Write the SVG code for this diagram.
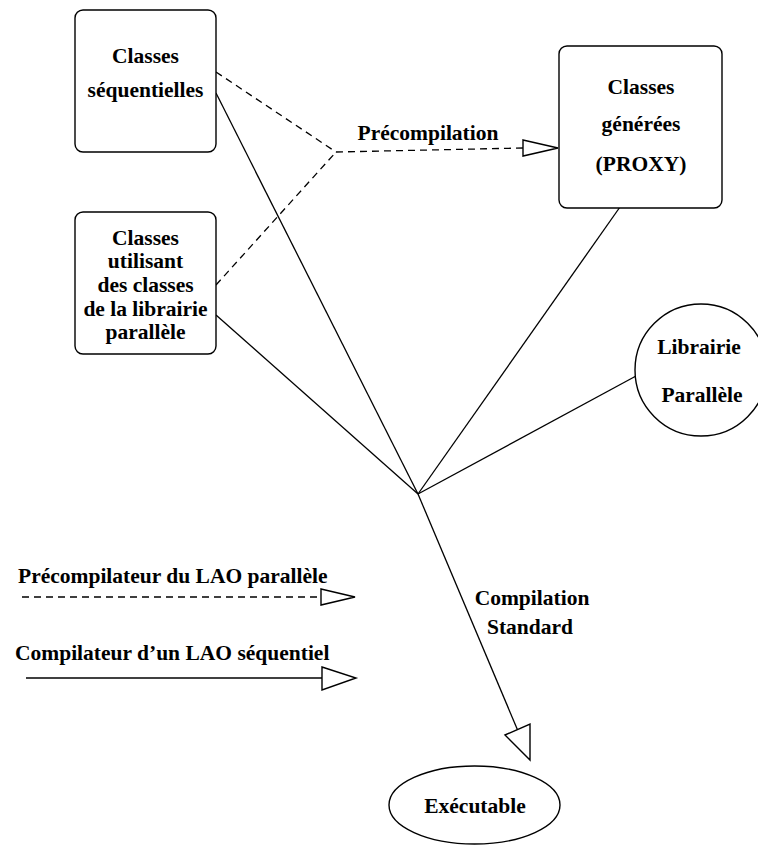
<svg xmlns="http://www.w3.org/2000/svg" width="758" height="845" viewBox="0 0 758 845">
  <style>
    .node { fill: #ffffff; stroke: #000000; stroke-width: 1.4; }
    .label { font-family: "Liberation Serif", "Times New Roman", serif; font-weight: bold; font-size: 21.5px; fill: #000000; text-anchor: middle; }
    .label-start { font-family: "Liberation Serif", "Times New Roman", serif; font-weight: bold; font-size: 21.5px; fill: #000000; }
    .solid { fill: none; stroke: #000000; stroke-width: 1.3; }
    .dashed { fill: none; stroke: #000000; stroke-width: 1.3; stroke-dasharray: 7 5; }
    .head { fill: #ffffff; stroke: #000000; stroke-width: 1.4; stroke-linejoin: miter; }
  </style>
  <rect width="758" height="845" fill="#ffffff"/>

  <!-- connectors -->
  <g id="connectors">
    <!-- precompilation: both source classes meet, then go to the generated classes -->
    <polyline class="dashed" points="216,72 336,152"/>
    <polyline class="dashed" points="216,285 336,152"/>
    <polyline class="dashed" points="336,152 523,148"/>
    <polygon class="head" points="523,140 558,148 523,156"/>

    <!-- standard compilation: everything meets at one point -->
    <line class="solid" x1="216" y1="93" x2="418" y2="494"/>
    <line class="solid" x1="216" y1="315" x2="418" y2="494"/>
    <line class="solid" x1="620" y1="207" x2="418" y2="494"/>
    <line class="solid" x1="636" y1="376" x2="418" y2="494"/>
    <line class="solid" x1="418" y1="494" x2="518" y2="731"/>
    <polygon class="head" points="505,735 530,724 530,760"/>

    <text class="label" x="428" y="140">Précompilation</text>
    <text class="label" x="532" y="605">Compilation</text>
    <text class="label" x="530" y="634">Standard</text>
  </g>

  <!-- nodes -->
  <g id="classes-sequentielles">
    <rect class="node" x="75" y="10" width="141" height="142" rx="8" ry="8"/>
    <text class="label" x="145.5" y="63">Classes</text>
    <text class="label" x="145.5" y="97">séquentielles</text>
  </g>

  <g id="classes-utilisant">
    <rect class="node" x="75" y="212" width="141" height="142" rx="8" ry="8"/>
    <text class="label" x="145.5" y="245">Classes</text>
    <text class="label" x="145.5" y="268">utilisant</text>
    <text class="label" x="145.5" y="292">des classes</text>
    <text class="label" x="145.5" y="316">de la librairie</text>
    <text class="label" x="145.5" y="339">parallèle</text>
  </g>

  <g id="classes-generees">
    <rect class="node" x="559" y="46" width="163" height="162" rx="8" ry="8"/>
    <text class="label" x="641" y="94">Classes</text>
    <text class="label" x="641" y="131">générées</text>
    <text class="label" x="641" y="171">(PROXY)</text>
  </g>

  <g id="librairie-parallele">
    <circle class="node" cx="701" cy="370" r="66"/>
    <text class="label" x="699" y="354">Librairie</text>
    <text class="label" x="702" y="402">Parallèle</text>
  </g>

  <g id="executable">
    <ellipse class="node" cx="474.5" cy="805" rx="85.5" ry="39"/>
    <text class="label" x="475" y="813">Exécutable</text>
  </g>

  <!-- legend -->
  <g id="legend-precompilateur">
    <text class="label-start" x="18" y="583">Précompilateur du LAO parallèle</text>
    <line class="dashed" x1="22" y1="597" x2="321" y2="597"/>
    <polygon class="head" points="321,589 355,597 321,605"/>
  </g>

  <g id="legend-compilateur">
    <line class="solid" x1="26" y1="678" x2="322" y2="678"/>
    <polygon class="head" points="322,667 356,678 322,690"/>
    <text class="label-start" x="15" y="660">Compilateur d’un LAO séquentiel</text>
  </g>
</svg>
